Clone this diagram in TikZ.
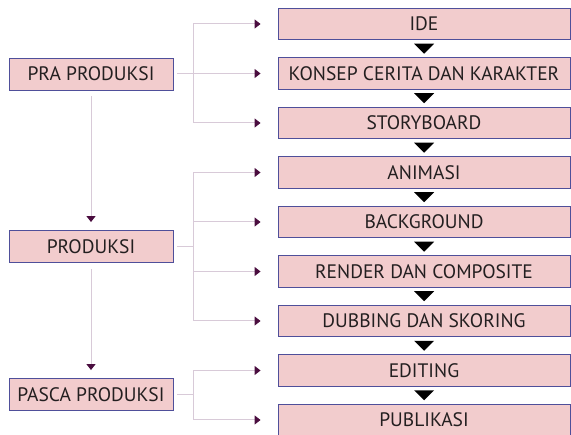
\documentclass[tikz,border=0pt]{standalone}
\usepackage{fontspec}
\setmainfont{PT Sans}
\usetikzlibrary{arrows.meta,shapes.geometric,positioning}
\definecolor{boxfill}{HTML}{F2CCCD}
\definecolor{boxline}{HTML}{4F4F9A}
\definecolor{linkline}{HTML}{D8CAD8}
\definecolor{linktip}{HTML}{4A0D3F}
\definecolor{txt}{HTML}{231F20}
\begin{document}
\begin{tikzpicture}[x=1pt, y=1pt,
        phase/.style={draw=boxline, fill=boxfill, line width=0.9pt, minimum width=164pt, minimum height=32pt, inner sep=0pt, font=\fontsize{19.5}{22}\selectfont, text=txt},
        stepbox/.style={phase, minimum width=292pt, minimum height=31.5pt},
        link/.style={draw=linkline, line width=1pt, -{Triangle[width=9pt,length=6pt,color=linktip]}},
        branch/.style={link, shorten <=4pt, shorten >=17pt},
        down/.style={link, shorten <=6pt, shorten >=8pt},
        flowtip/.style={isosceles triangle, isosceles triangle stretches, shape border rotate=-90, fill=black, minimum width=20pt, minimum height=10pt, inner sep=0pt}
    ]
        \useasboundingbox (0,0) rectangle (571,-435);
        
        % Phases (left)
        \node[phase] (pra) at (91,-74) {PRA PRODUKSI};
        \node[phase] (prod) at (91,-246.5) {PRODUKSI};
        \node[phase] (pasca) at (91,-394.5) {PASCA PRODUKSI};
        
        % Steps (right)
        \foreach \i/\txt in {1/IDE, 2/KONSEP CERITA DAN KARAKTER, 3/STORYBOARD, 4/ANIMASI, 5/BACKGROUND, 6/RENDER DAN COMPOSITE, 7/DUBBING DAN SKORING, 8/EDITING, 9/PUBLIKASI} {
            \node[stepbox] (s\i) at (424, {-24-49.5*(\i-1)}) {\txt};
        }
        
        % Flow between steps
        \foreach \i [evaluate=\i as \j using int(\i+1)] in {1,...,8} {
            \path (s\i.south) -- node[flowtip, pos=0.45] {} (s\j.north);
        }
        
        % Phase to phase
        \draw[down] (pra) -- (prod);
        \draw[down] (prod) -- (pasca);
        
        % Phase to steps
        \foreach \k in {1,2,3} {
            \draw[branch] (pra.east) -- ++(20,0) |- (s\k.west);
        }
        \foreach \k in {4,...,7} {
            \draw[branch] (prod.east) -- ++(20,0) |- (s\k.west);
        }
        \foreach \k in {8,9} {
            \draw[branch] (pasca.east) -- ++(20,0) |- (s\k.west);
        }
    \end{tikzpicture}
\end{document}
